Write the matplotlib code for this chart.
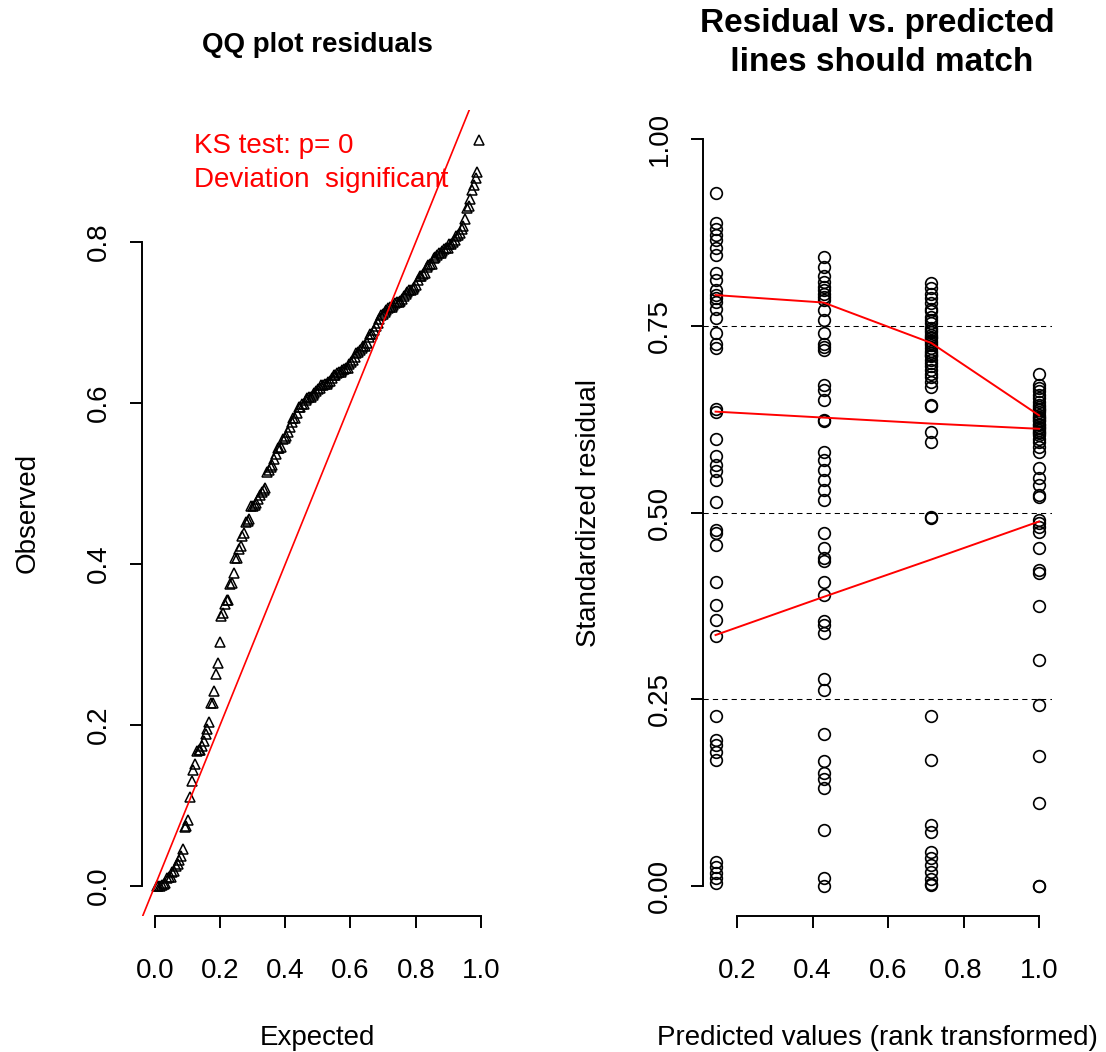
import numpy as np
import matplotlib.pyplot as plt

plt.rcParams['font.family'] = ['Liberation Sans', 'DejaVu Sans']

# rank-transformed predictions (4 distinct values)
group_x = [0.143, 0.429, 0.714, 1.0]

res_g1 = [0.927, 0.887, 0.880, 0.871, 0.865, 0.854, 0.845, 0.820, 0.811, 0.798,
          0.791, 0.787, 0.782, 0.773, 0.760, 0.740, 0.726, 0.720, 0.639, 0.635,
          0.599, 0.576, 0.564, 0.555, 0.544, 0.514, 0.476, 0.472, 0.456, 0.407,
          0.376, 0.356, 0.335, 0.228, 0.195, 0.189, 0.180, 0.169, 0.032, 0.025,
          0.018, 0.011, 0.004]
res_g2 = [0.842, 0.829, 0.816, 0.809, 0.802, 0.798, 0.793, 0.789, 0.784, 0.771,
          0.758, 0.740, 0.726, 0.722, 0.718, 0.671, 0.664, 0.651, 0.624, 0.622,
          0.581, 0.570, 0.557, 0.544, 0.530, 0.517, 0.472, 0.453, 0.439, 0.435,
          0.407, 0.389, 0.355, 0.350, 0.339, 0.277, 0.263, 0.204, 0.168, 0.152,
          0.144, 0.131, 0.075, 0.011, 0.000]
res_g3 = [0.807, 0.800, 0.793, 0.787, 0.780, 0.773, 0.769, 0.762, 0.758, 0.753,
          0.747, 0.744, 0.742, 0.738, 0.735, 0.733, 0.729, 0.727, 0.724, 0.720,
          0.716, 0.713, 0.711, 0.709, 0.704, 0.700, 0.696, 0.691, 0.686, 0.682,
          0.675, 0.668, 0.644, 0.642, 0.608, 0.595, 0.494, 0.492, 0.227, 0.169,
          0.082, 0.073, 0.046, 0.037, 0.028, 0.019, 0.010, 0.003, 0.001]
res_g4 = [0.686, 0.671, 0.666, 0.662, 0.657, 0.653, 0.648, 0.644, 0.641, 0.639,
          0.637, 0.635, 0.631, 0.628, 0.626, 0.624, 0.622, 0.619, 0.617, 0.615,
          0.613, 0.610, 0.608, 0.606, 0.604, 0.599, 0.595, 0.588, 0.581, 0.559,
          0.546, 0.537, 0.523, 0.521, 0.490, 0.486, 0.481, 0.474, 0.452, 0.423,
          0.419, 0.375, 0.303, 0.242, 0.174, 0.111, 0.000, 0.000]

# quantile regression lines (0.25, 0.5, 0.75)
q25 = [0.336, 0.387, 0.437, 0.488]
q50 = [0.635, 0.627, 0.619, 0.612]
q75 = [0.791, 0.781, 0.727, 0.630]

ks_text = ["KS test: p= 0", "Deviation  significant"]

groups = [res_g1, res_g2, res_g3, res_g4]
observed = np.sort(np.concatenate(groups))
n = len(observed)
expected = np.arange(1, n + 1) / (n + 1)

W, H = 1106, 1052
fig = plt.figure(figsize=(W / 100, H / 100), dpi=100)


def px_axes(left, top, right, bottom):
    return fig.add_axes([left / W, 1 - bottom / H, (right - left) / W, (bottom - top) / H])


def r_style(ax, xt, yt, xfmt, yfmt):
    for s in ['top', 'right']:
        ax.spines[s].set_visible(False)
    for s in ['left', 'bottom']:
        ax.spines[s].set_linewidth(1.4)
    ax.set_xticks(xt)
    ax.set_yticks(yt)
    ax.set_xticklabels([xfmt.format(v) for v in xt])
    ax.set_yticklabels([yfmt.format(v) for v in yt], rotation=90, va='center')
    ax.spines['bottom'].set_bounds(xt[0], xt[-1])
    ax.spines['left'].set_bounds(yt[0], yt[-1])
    ax.tick_params(direction='out', length=8.6, width=1.4, labelsize=20)
    ax.tick_params(axis='x', pad=22)
    ax.tick_params(axis='y', pad=13)


# QQ plot
ax1 = px_axes(141.8, 110, 492.2, 916)
ax1.plot(expected, observed, linestyle='none', marker='^', mfc='none',
         mec='black', ms=7, mew=1.1)
ax1.margins(0.04)
ax1.axline((0, 0), slope=1, color='red', lw=1.2)
r_style(ax1, [0, 0.2, 0.4, 0.6, 0.8, 1.0], [0, 0.2, 0.4, 0.6, 0.8], '{:.1f}', '{:.1f}')

fig.text(194 / W, 1 - 153 / H, ks_text[0], color='red', fontsize=20, va='baseline')
fig.text(194 / W, 1 - 187 / H, ks_text[1], color='red', fontsize=20, va='baseline')
fig.text(317 / W, 1 - 52 / H, "QQ plot residuals", fontsize=20, fontweight='bold',
         ha='center', va='baseline')
fig.text(317 / W, 1 - 1045 / H, "Expected", fontsize=20, ha='center', va='baseline')
fig.text(35 / W, 1 - 513 / H, "Observed", fontsize=20, ha='center', va='baseline',
         rotation=90, rotation_mode='anchor')

# residual vs predicted
ax2 = px_axes(702.6, 109, 1052, 916)
for xv, g in zip(group_x, groups):
    ax2.plot([xv] * len(g), g, linestyle='none', marker='o', mfc='none',
             mec='black', ms=8.4, mew=1.2)
for yv in [0.25, 0.5, 0.75]:
    ax2.axhline(yv, color='black', lw=0.75, linestyle=(0, (5, 4)))
for q in [q25, q50, q75]:
    ax2.plot(group_x, q, color='red', lw=1.4)
ax2.margins(x=0.04)
ax2.set_ylim(-0.04, 1.04)
r_style(ax2, [0.2, 0.4, 0.6, 0.8, 1.0], [0, 0.25, 0.5, 0.75, 1.0], '{:.1f}', '{:.2f}')

fig.text(877 / W, 1 - 32 / H, "Residual vs. predicted", fontsize=24, fontweight='bold',
         ha='center', va='baseline')
fig.text(877 / W, 1 - 71 / H, " lines should match", fontsize=24, fontweight='bold',
         ha='center', va='baseline')
fig.text(877 / W, 1 - 1045 / H, "Predicted values (rank transformed)", fontsize=20,
         ha='center', va='baseline')
fig.text(596 / W, 1 - 513 / H, "Standardized residual", fontsize=20, ha='center',
         va='baseline', rotation=90, rotation_mode='anchor')

fig.savefig('out.png', dpi=100)
